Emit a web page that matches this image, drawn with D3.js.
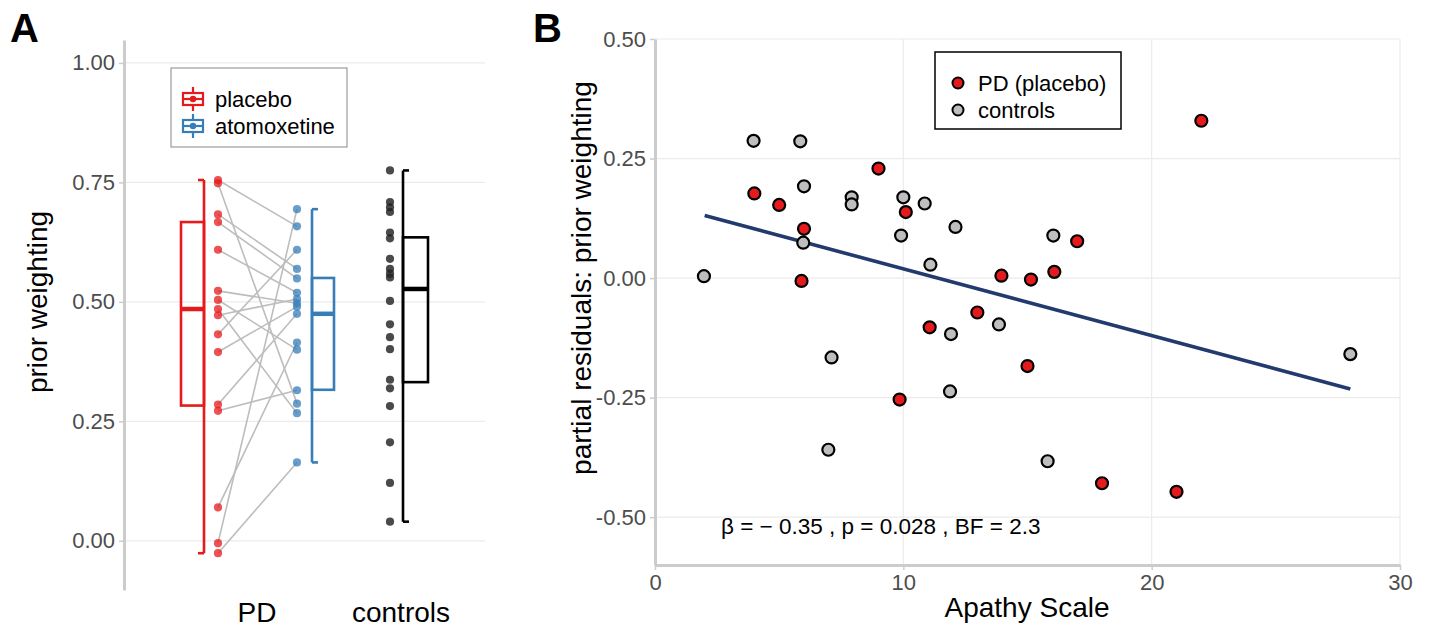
<!DOCTYPE html>
<html>
<head>
<meta charset="utf-8">
<script src="https://cdn.jsdelivr.net/npm/d3@7"></script>
<style>
  body { margin: 0; background: #fff; }
  text { font-family: "Liberation Sans", Arial, Helvetica, sans-serif; }
</style>
</head>
<body>
<svg id="fig" width="1429" height="628"></svg>
<script>
const svg = d3.select("#fig");

// ---- panel A data (same participant order for placebo / atomoxetine) ----
const placebo     = [0.755, 0.748, 0.683, 0.667, 0.609, 0.523, 0.504, 0.485, 0.472, 0.432, 0.395, 0.285, 0.272, 0.070, -0.005, -0.026];
const atomoxetine = [0.658, 0.287, 0.569, 0.549, 0.519, 0.497, 0.400, 0.267, 0.506, 0.609, 0.490, 0.475, 0.315, 0.415, 0.694, 0.164];
const controls    = [0.775, 0.709, 0.698, 0.688, 0.645, 0.633, 0.590, 0.569, 0.559, 0.551, 0.502, 0.453, 0.426, 0.401, 0.337, 0.319, 0.282, 0.206, 0.121, 0.040];

// box stats: [lower whisker, Q1, median, Q3, upper whisker]
const placeboBox     = [-0.026, 0.283, 0.485, 0.667, 0.755];
const atomoxetineBox = [0.164, 0.316, 0.475, 0.550, 0.694];
const controlsBox    = [0.040, 0.332, 0.527, 0.635, 0.775];

const groupsA = ["PD", "controls"];
const yTicksA = [0, 0.25, 0.5, 0.75, 1];

// ---- panel B data ----
const pdApathy  = [4.0, 5.0, 6.0, 5.9, 9.0, 10.1, 9.85, 11.06, 12.98, 13.95, 15.0, 15.14, 16.08, 17.0, 18.0, 21.0, 22.0];
const pdResid   = [0.177, 0.153, 0.103, -0.006, 0.229, 0.138, -0.254, -0.103, -0.072, 0.005, -0.184, -0.003, 0.013, 0.077, -0.429, -0.447, 0.329];
const ctlApathy = [3.97, 5.85, 6.0, 7.92, 7.92, 10.0, 10.86, 5.97, 9.91, 11.09, 1.97, 7.11, 6.98, 12.1, 16.04, 13.85, 11.92, 11.88, 15.81, 28.0];
const ctlResid  = [0.287, 0.286, 0.192, 0.169, 0.154, 0.169, 0.156, 0.074, 0.089, 0.028, 0.004, -0.166, -0.359, 0.107, 0.089, -0.097, -0.117, -0.237, -0.383, -0.159];
const fitApathy = [2, 28];
const fitResid  = [0.131, -0.232];

const xTicksB = [0, 10, 20, 30];
const yTicksB = [-0.5, -0.25, 0, 0.25, 0.5];

const tickFmt = d => d3.format(".2f")(d).replace("−", "-");
const axisGrey = "#cccccc";
const gridGrey = "#ebebeb";
const tickText = "#4d4d4d";

const red = "#e41a1c", blue = "#377eb8";

function styleAxis(a) {
  a.select(".domain").attr("stroke", axisGrey).attr("stroke-width", 3);
  a.selectAll(".tick line").attr("stroke", axisGrey).attr("stroke-width", 1.5);
  a.selectAll(".tick text").attr("fill", tickText).style("font-size", "22px")
    .style("font-family", "Liberation Sans, Arial, sans-serif");
}

// ================= PANEL A =================
const yA = d3.scaleLinear().domain([-0.103, 1.048]).range([590, 40]);
const xA = d3.scalePoint().domain(groupsA).range([257, 401]);

const gA = svg.append("g");

gA.selectAll("line.grid").data(yTicksA).enter().append("line")
  .attr("x1", 124).attr("x2", 485)
  .attr("y1", d => yA(d)).attr("y2", d => yA(d))
  .attr("stroke", gridGrey).attr("stroke-width", 1.2);

const axA = gA.append("g").attr("transform", "translate(124,0)")
  .call(d3.axisLeft(yA).tickValues(yTicksA).tickFormat(tickFmt)
    .tickSizeInner(5).tickSizeOuter(0).tickPadding(4));
styleAxis(axA);

// paired lines
const pdX = xA("PD");
gA.selectAll("line.pair").data(placebo).enter().append("line")
  .attr("x1", pdX - 39).attr("x2", pdX + 40)
  .attr("y1", d => yA(d)).attr("y2", (d, i) => yA(atomoxetine[i]))
  .attr("stroke", "#bdbdbd").attr("stroke-width", 1.6);

function halfBox(stats, xWhisk, xFar, color, capDir) {
  const g = gA.append("g").attr("fill", "none").attr("stroke", color).attr("stroke-width", 2.6);
  const x0 = Math.min(xWhisk, xFar), w = Math.abs(xFar - xWhisk);
  g.append("rect").attr("x", x0).attr("y", yA(stats[3]))
    .attr("width", w).attr("height", yA(stats[1]) - yA(stats[3]));
  g.append("line").attr("x1", xWhisk).attr("x2", xWhisk)
    .attr("y1", yA(stats[0])).attr("y2", yA(stats[4]));
  [stats[0], stats[4]].forEach(v => {
    g.append("line").attr("x1", xWhisk).attr("x2", xWhisk + capDir * 6)
      .attr("y1", yA(v)).attr("y2", yA(v));
  });
  g.append("line").attr("x1", x0).attr("x2", x0 + w)
    .attr("y1", yA(stats[2])).attr("y2", yA(stats[2])).attr("stroke-width", 4.5);
}
halfBox(placeboBox, pdX - 53, pdX - 76, red, -1);
halfBox(atomoxetineBox, pdX + 55, pdX + 77, blue, 1);
halfBox(controlsBox, xA("controls") + 2, xA("controls") + 27, "#000", 1);

function dots(vals, x, color, op) {
  gA.append("g").selectAll("circle").data(vals).enter().append("circle")
    .attr("cx", x).attr("cy", d => yA(d)).attr("r", 4.1)
    .attr("fill", color).attr("fill-opacity", op);
}
dots(placebo, pdX - 39, red, 0.75);
dots(atomoxetine, pdX + 40, blue, 0.75);
dots(controls, xA("controls") - 11, "#222", 0.82);

gA.selectAll("text.grp").data(groupsA).enter().append("text")
  .attr("x", d => xA(d)).attr("y", 622).attr("text-anchor", "middle")
  .style("font-size", "28px").attr("fill", "#000").text(d => d);

gA.append("text").attr("transform", "translate(47,302) rotate(-90)")
  .attr("text-anchor", "middle").style("font-size", "28px").text("prior weighting");

// legend A
const legA = gA.append("g");
legA.append("rect").attr("x", 171).attr("y", 68).attr("width", 176).attr("height", 79)
  .attr("fill", "#fff").attr("stroke", "#888").attr("stroke-width", 1);
[["placebo", red], ["atomoxetine", blue]].forEach(([lab, col], i) => {
  const cy = 99 + i * 27;
  const g = legA.append("g").attr("stroke", col).attr("fill", "none").attr("stroke-width", 2.2);
  g.append("line").attr("x1", 193).attr("x2", 193).attr("y1", cy - 12).attr("y2", cy + 12);
  g.append("rect").attr("x", 183).attr("y", cy - 6).attr("width", 20).attr("height", 12).attr("fill", "#fff");
  g.append("line").attr("x1", 183).attr("x2", 203).attr("y1", cy).attr("y2", cy);
  legA.append("circle").attr("cx", 193).attr("cy", cy).attr("r", 3.2).attr("fill", col);
  legA.append("text").attr("x", 215).attr("y", cy + 8).style("font-size", "22px").text(lab);
});

svg.append("text").attr("x", 10).attr("y", 42).style("font-size", "40px")
  .style("font-weight", "bold").text("A");

// ================= PANEL B =================
const xB = d3.scaleLinear().domain([0, 30]).range([655, 1400]);
const yB = d3.scaleLinear().domain([-0.6, 0.5]).range([565, 39]);
const gB = svg.append("g");

gB.selectAll("line.gy").data(yTicksB).enter().append("line")
  .attr("x1", 655).attr("x2", 1400).attr("y1", d => yB(d)).attr("y2", d => yB(d))
  .attr("stroke", gridGrey).attr("stroke-width", 1.2);
gB.selectAll("line.gx").data(xTicksB).enter().append("line")
  .attr("x1", d => xB(d)).attr("x2", d => xB(d)).attr("y1", 39).attr("y2", 565)
  .attr("stroke", gridGrey).attr("stroke-width", 1.2);

const axBy = gB.append("g").attr("transform", "translate(655,0)")
  .call(d3.axisLeft(yB).tickValues(yTicksB).tickFormat(tickFmt)
    .tickSizeInner(5).tickSizeOuter(0).tickPadding(4));
const axBx = gB.append("g").attr("transform", "translate(0,565)")
  .call(d3.axisBottom(xB).tickValues(xTicksB).tickFormat(d3.format("d"))
    .tickSizeInner(5).tickSizeOuter(0).tickPadding(4));
styleAxis(axBy);
styleAxis(axBx);

gB.append("line")
  .attr("x1", xB(fitApathy[0])).attr("y1", yB(fitResid[0]))
  .attr("x2", xB(fitApathy[1])).attr("y2", yB(fitResid[1]))
  .attr("stroke", "#233a6e").attr("stroke-width", 3.6);

gB.append("g").selectAll("circle").data(ctlApathy).enter().append("circle")
  .attr("cx", d => xB(d)).attr("cy", (d, i) => yB(ctlResid[i])).attr("r", 6)
  .attr("fill", "#bebebe").attr("stroke", "#000").attr("stroke-width", 2.2);
gB.append("g").selectAll("circle").data(pdApathy).enter().append("circle")
  .attr("cx", d => xB(d)).attr("cy", (d, i) => yB(pdResid[i])).attr("r", 6)
  .attr("fill", red).attr("stroke", "#000").attr("stroke-width", 2.2);

gB.append("text").attr("x", 721).attr("y", 534).style("font-size", "22.5px")
  .text("β = − 0.35 , p = 0.028 , BF = 2.3");

gB.append("text").attr("x", 1027).attr("y", 617).attr("text-anchor", "middle")
  .style("font-size", "28px").text("Apathy Scale");
gB.append("text").attr("transform", "translate(591,278) rotate(-90)")
  .attr("text-anchor", "middle").style("font-size", "28px").text("partial residuals: prior weighting");

// legend B
const legB = gB.append("g");
legB.append("rect").attr("x", 935).attr("y", 52).attr("width", 186).attr("height", 77)
  .attr("fill", "#fff").attr("stroke", "#000").attr("stroke-width", 1.5);
[["PD (placebo)", red], ["controls", "#bebebe"]].forEach(([lab, col], i) => {
  const cy = 83 + i * 27;
  legB.append("circle").attr("cx", 958).attr("cy", cy).attr("r", 5.5)
    .attr("fill", col).attr("stroke", "#000").attr("stroke-width", 2);
  legB.append("text").attr("x", 978).attr("y", cy + 8).style("font-size", "22px").text(lab);
});

svg.append("text").attr("x", 533).attr("y", 42).style("font-size", "40px")
  .style("font-weight", "bold").text("B");
</script>
</body>
</html>
